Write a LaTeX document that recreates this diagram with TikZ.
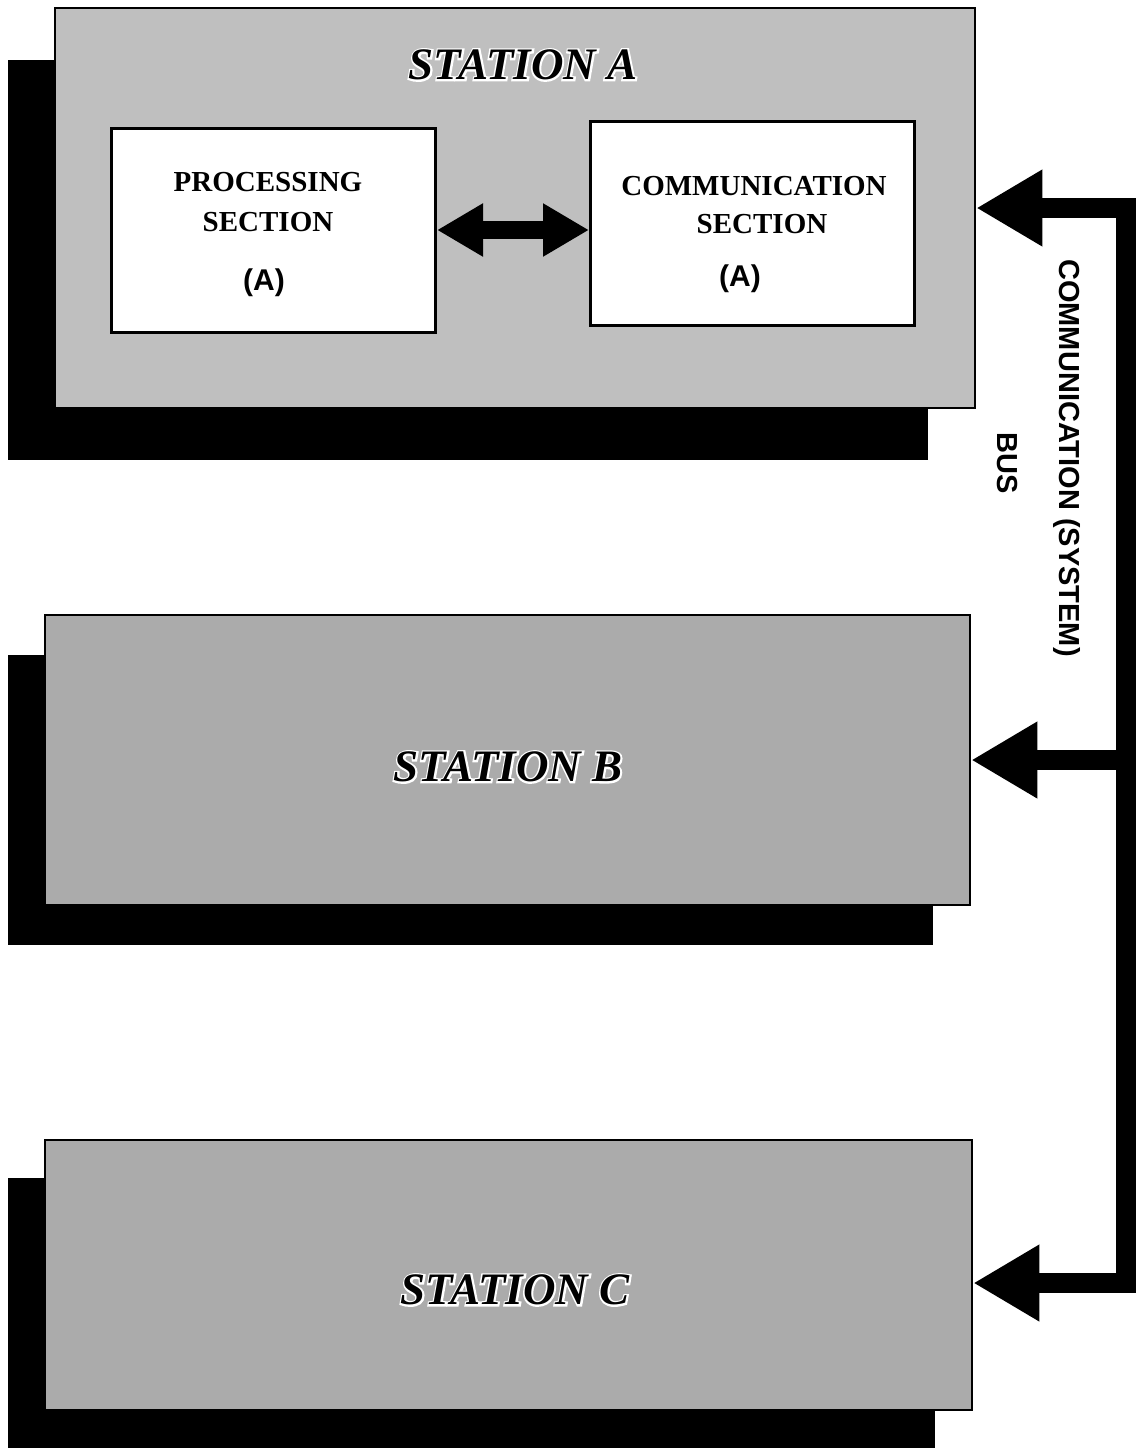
\documentclass[tikz,border=0pt]{standalone}
\usepackage{fontspec}
\setmainfont{Liberation Serif}
\newfontfamily\labelsans{Liberation Sans}
% widened strokes for the white halo behind the station titles
\newfontfamily\halofont[FakeBold=8]{Liberation Serif}
\usetikzlibrary{arrows.meta,shadows,calc}

\begin{document}
\begin{tikzpicture}[x=1pt,y=-1pt,
  station/.style={draw=black, line width=2.5pt, inner sep=0pt},
  section/.style={draw=black, line width=3pt, fill=white, inner sep=0pt,
    minimum width=324pt, minimum height=204pt},
  title/.style={font=\fontsize{45}{50}\selectfont\bfseries\itshape, inner sep=0pt},
  halo/.style={font=\halofont\fontsize{45}{50}\selectfont\bfseries\itshape, inner sep=0pt, text=white},
  serifcap/.style={font=\fontsize{29}{32}\selectfont\bfseries, inner sep=0pt},
  sanscap/.style={font=\labelsans\fontsize{30}{32}\selectfont\bfseries, inner sep=0pt},
  buslabel/.style={font=\labelsans\fontsize{29}{32}\selectfont\bfseries, inner sep=0pt, rotate=-90},
  buswire/.style={line width=20pt, line join=miter},
  bustip/.style={-{Triangle[length=66pt,width=72pt]}},
  duplex/.style={line width=18pt, {Triangle[length=46pt,width=50pt]}-{Triangle[length=46pt,width=50pt]}}
]
\useasboundingbox[fill=white] (0,0) rectangle (1143,1448);

% stations with their offset black shadows
\node[station, fill=black!25, minimum width=920pt, minimum height=400pt,
  drop shadow={shadow xshift=-47pt, shadow yshift=-52pt, fill=black, opacity=1}]
  (sa) at (515,208) {};
\node[station, fill=black!33, minimum width=925pt, minimum height=290pt,
  drop shadow={shadow xshift=-37pt, shadow yshift=-40pt, fill=black, opacity=1}]
  (sb) at (507.5,760) {};
\node[station, fill=black!33, minimum width=927pt, minimum height=270pt,
  drop shadow={shadow xshift=-37pt, shadow yshift=-38pt, fill=black, opacity=1}]
  (sc) at (508.5,1275) {};

% station titles on a white halo
\node[halo] at (523,65) {STATION A};
\node[halo] at (508,767) {STATION B};
\node[halo] at (515,1290) {STATION C};
\node[title] (ta) at (523,65) {STATION A};
\node[title] (tb) at (508,767) {STATION B};
\node[title] (tc) at (515,1290) {STATION C};

% sections inside station A
\node[section] (proc) at (273.5,230) {};
\node[section] (comm) at (752.5,223) {};
\node[serifcap] (p1) at (268,182) {PROCESSING};
\node[serifcap] (p2) at (268,222) {SECTION};
\node[sanscap]  (p3) at (264,283) {(A)};
\node[serifcap] (c1) at (754,186) {COMMUNICATION};
\node[serifcap] (c2) at (762,224) {SECTION};
\node[sanscap]  (c3) at (740,279) {(A)};

% link between the two sections
\draw[duplex] (proc.east) -- (proc.east -| comm.west);

% communication bus
\coordinate (bt) at (1126,208);
\coordinate (bb) at (1126,1283);
\draw[buswire, bustip] (bt) -- (sa.east);
\draw[buswire, bustip] (bb) -- (sc.east |- bb);
\draw[buswire] ([xshift=-10pt]bt) -- (bt) -- (bb) -- ([xshift=-10pt]bb);
\draw[buswire, bustip] (sb.east -| bt) -- (sb.east);

\node[buslabel] (bus1) at (1067,458) {COMMUNICATION (SYSTEM)};
\node[buslabel] (bus2) at (1007,463) {BUS};
\end{tikzpicture}
\end{document}
